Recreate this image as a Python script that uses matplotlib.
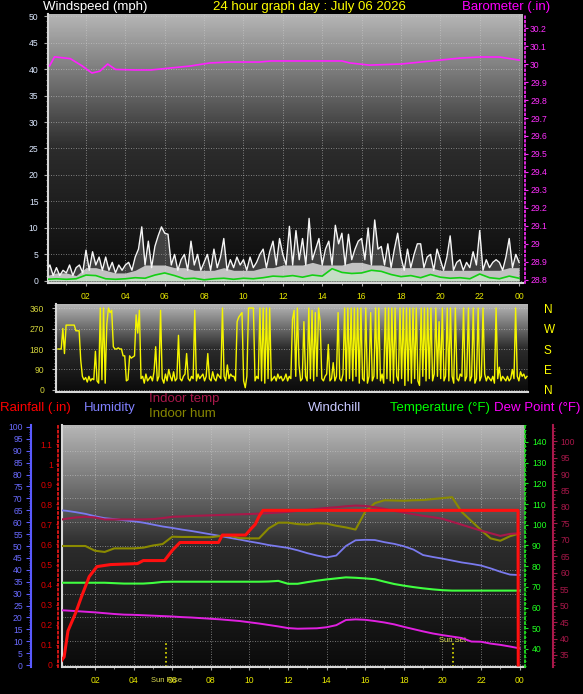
import numpy as np
import matplotlib
matplotlib.use("Agg")
import matplotlib.pyplot as plt
from matplotlib.colors import LinearSegmentedColormap
from matplotlib.ticker import MultipleLocator

plt.rcParams['font.family'] = ['Liberation Sans', 'DejaVu Sans']

# ---------------- data ----------------
hour_ticks = [2, 4, 6, 8, 10, 12, 14, 16, 18, 20, 22, 24]
hour_labels = ['02', '04', '06', '08', '10', '12', '14', '16', '18', '20', '22', '00']

# wind gusts every 10 minutes (mph)
gust_mph = [
    2, 3, 1, 2.5, 1, 2,
    1.5, 3, 1, 2.5, 3, 1.5,
    5.8, 2, 5.5, 3, 4.5, 2,
    4.5, 2, 3.5, 1.5, 3, 2,
    3, 3.5, 2, 4.5, 6, 10.2,
    3, 7.5, 2.5, 6.5, 8.5, 10.2,
    9, 8.8, 3, 5, 2, 4,
    5, 2, 7.5, 3, 5, 2,
    3.5, 5, 2, 6, 2.5, 4.5,
    8, 2, 4, 2.5, 4.5, 3,
    4, 2, 4.5, 2.5, 3.5, 5,
    6, 2.5, 5.5, 7.5, 3, 8,
    5, 3, 10.3, 3, 9.5, 4,
    8, 3, 11.8, 4, 6, 8,
    3, 6, 7.5, 3, 10.5, 7,
    9, 3, 8.8, 4, 6, 7.5,
    8, 4, 10, 3, 11.5, 6,
    6.5, 3, 7, 2.5, 6, 9,
    4.5, 2, 6, 2.5, 5, 7,
    7, 2.5, 4.5, 5, 2, 6,
    4, 2, 4.5, 8.5, 2, 3.5,
    4, 2, 3.5, 2.5, 5.5, 3,
    9.5, 2, 4, 2.5, 3.5, 4,
    3.5, 2, 4.5, 8, 2.5, 5,
    3.5]

# wind speed and average every 30 minutes (mph)
wind_mph = [1, 1.5, 1.5, 1, 2.5, 2.5, 2, 1.5, 1.5, 2, 3, 3, 3, 2.5, 2.5, 2, 2,
            2, 2.5, 2, 2, 2, 2.5, 2.5, 3, 3, 3, 3.5, 3, 3, 3, 3.5, 3.5, 3, 3,
            2.5, 2.5, 2.5, 2.5, 2.5, 2, 2, 2, 2, 2, 2, 2, 2.5, 2.5]
avg_mph = [0.3, 0.4, 0.3, 0.4, 1.1, 1.0, 0.4, 0.3, 0.4, 0.6, 0.5, 1.1, 1.5,
           1.0, 0.4, 0.5, 0.2, 0.4, 0.5, 0.3, 0.5, 0.4, 0.6, 0.9, 0.8, 1.0,
           0.7, 1.1, 0.9, 2.3, 1.6, 1.4, 1.5, 2.0, 1.8, 1.2, 0.8, 1.0, 0.6,
           1.2, 0.7, 0.5, 0.6, 0.4, 1.3, 0.6, 0.4, 0.9, 0.5]

# barometer (inHg)
baro_hours = [0.15, 0.4, 1.2, 1.8, 2.3, 2.7, 3.1, 3.5, 4.5, 5.3, 6.3, 7.3,
              8.3, 9.3, 10.8, 11.4, 13, 15, 15.4, 16.4, 18, 19, 20, 21, 22,
              23, 24]
baro_in = [29.99, 30.04, 30.03, 29.99, 29.95, 29.96, 30.0, 29.97, 29.967,
           29.967, 29.978, 29.989, 30.006, 30.011, 30.011, 30.017, 30.017,
           30.017, 30.006, 29.994, 30.0, 30.011, 30.022, 30.033, 30.039,
           30.039, 30.022]
baro_ticks = [28.8, 28.9, 29.0, 29.1, 29.2, 29.3, 29.4, 29.5, 29.6, 29.7,
              29.8, 29.9, 30.0, 30.1, 30.2]
baro_labels = ['28.8', '28.9', '29', '29.1', '29.2', '29.3', '29.4', '29.5',
               '29.6', '29.7', '29.8', '29.9', '30', '30.1', '30.2']

# wind direction every 5 minutes (degrees)
wind_dir = [
    180, 180, 180, 270, 160, 285, 285, 285, 285, 285, 285, 260,
    260, 260, 130, 60, 45, 55, 35, 60, 40, 50, 45, 170,
    40, 30, 360, 45, 360, 30, 290, 360, 340, 350, 190, 180,
    180, 185, 180, 180, 150, 150, 40, 45, 150, 140, 145, 150,
    330, 250, 350, 50, 60, 30, 70, 40, 50, 60, 40, 80,
    190, 40, 60, 350, 50, 30, 70, 40, 90, 60, 40, 80,
    40, 50, 240, 50, 40, 60, 70, 160, 50, 40, 60, 50,
    350, 40, 70, 50, 60, 70, 40, 60, 160, 50, 40, 80,
    50, 40, 70, 60, 50, 360, 60, 40, 110, 50, 70, 60,
    60, 40, 300, 320, 330, 340, 40, 10, 60, 360, 360, 360,
    360, 40, 60, 50, 360, 40, 360, 30, 360, 50, 360, 40,
    50, 60, 40, 70, 50, 60, 40, 50, 70, 40, 60, 50,
    310, 350, 60, 360, 110, 40, 50, 300, 60, 40, 360, 50,
    350, 40, 340, 60, 360, 300, 50, 40, 60, 70, 200, 40,
    50, 120, 40, 60, 340, 50, 40, 70, 360, 40, 360, 50,
    360, 40, 360, 60, 360, 30, 360, 50, 40, 360, 30, 60,
    340, 40, 60, 360, 50, 360, 40, 70, 30, 360, 50, 360,
    40, 360, 30, 360, 60, 40, 360, 50, 360, 20, 360, 40,
    360, 30, 360, 50, 360, 40, 20, 360, 60, 360, 40, 360,
    50, 360, 40, 70, 360, 60, 300, 50, 360, 40, 60, 360,
    40, 360, 60, 30, 360, 50, 40, 70, 60, 360, 40, 60,
    360, 40, 60, 360, 30, 50, 360, 40, 60, 360, 70, 40,
    60, 50, 40, 60, 30, 360, 50, 100, 40, 60, 50, 40,
    60, 40, 50, 90, 50, 360, 60, 40, 80, 60, 70, 50,
    60]
compass_deg = [360, 270, 180, 90, 0]
compass = ['N', 'W', 'S', 'E', 'N']

# bottom panel, every 30 minutes
humidity = [65.1, 64.8, 64.2, 63.5, 62.5, 61.7, 61.3, 60.8, 60.4, 59.8, 59.0,
            58.2, 57.6, 56.9, 56.3, 55.6, 54.9, 54.2, 53.4, 52.7, 51.9, 51.2,
            50.4, 49.8, 49.2, 48.2, 47.0, 46.0, 45.2, 46.0, 50.0, 52.4, 52.6,
            52.5, 51.6, 50.9, 49.9, 48.5, 46.2, 45.4, 44.7, 43.9, 43.1, 42.5,
            41.8, 40.6, 39.2, 38.0, 37.8]
indoor_hum = [50, 50, 50, 50, 48, 47.5, 49, 49, 49, 49.3, 50.2, 50.8, 53.9,
              53.8, 53.8, 53.7, 53.7, 54.2, 54.3, 53.3, 53.2, 53.2, 57.4, 59.8,
              59.8, 59.2, 59.0, 59.6, 59.4, 58.5, 57.8, 56.9, 64.4, 68.0, 69.2,
              69.1, 69.0, 69.2, 69.3, 69.7, 70.1, 70.5, 64.3, 60.5, 56.7, 53.2,
              52.2, 54.1, 55.3]
indoor_temp = [75.9, 76.4, 76.8, 77.0, 76.8, 76.2, 76.2, 76.2, 76.2, 76.2,
               76.3, 76.6, 77.0, 77.1, 77.25, 77.35, 77.45, 77.55, 77.65,
               77.75, 77.85, 77.95, 78.1, 78.3, 78.5, 78.8, 79.1, 79.4, 79.7,
               79.9, 80.2, 80.4, 80.3, 79.9, 79.4, 78.8, 78.3, 77.8, 77.3,
               76.9, 76.4, 75.5, 74.6, 73.7, 72.8, 72.0, 71.2, 71.8, 72.0]
temperature = [72, 72, 72, 72, 72, 72, 71.8, 71.6, 71.6, 71.6, 71.9, 72.4,
               72.5, 72.5, 72.5, 72.5, 72.5, 72.5, 72.5, 72.5, 72.5, 72.5,
               72.6, 72.9, 71.5, 71.5, 72.3, 73.0, 73.6, 74.1, 74.6, 74.4,
               74.1, 73.7, 72.5, 71.4, 70.6, 69.9, 69.3, 68.8, 68.4, 68.2,
               68.2, 68.2, 68.2, 68.2, 68.2, 68.2, 68.2]
dew_point = [58.8, 58.6, 58.3, 58.0, 57.7, 57.3, 56.9, 56.6, 56.5, 56.3, 56.1,
             55.9, 55.7, 55.4, 55.2, 54.9, 54.6, 54.3, 53.9, 53.5, 52.9, 52.3,
             51.6, 50.9, 50.1, 49.8, 49.9, 50.0, 50.5, 51.5, 54.0, 54.3, 54.1,
             53.5, 52.8, 51.9, 50.7, 49.6, 48.5, 47.5, 46.7, 46.0, 45.3, 43.6,
             43.5, 42.6, 42.0, 41.2, 40.3]

rain_hours = [0.25, 0.4, 0.6, 1.0, 1.3, 1.7, 2.1, 2.8, 4.2, 4.5, 5.6, 6.0, 6.4,
              8.4, 8.6, 9.8, 10.1, 10.3, 10.5, 10.7, 23.92, 23.93]
rain_in = [0.02, 0.04, 0.17, 0.26, 0.34, 0.44, 0.49, 0.50, 0.505, 0.52, 0.52,
           0.57, 0.61, 0.61, 0.647, 0.647, 0.68, 0.70, 0.74, 0.77, 0.77, 0.0]
rain_ticks = [0, 0.1, 0.2, 0.3, 0.4, 0.5, 0.6, 0.7, 0.8, 0.9, 1.0, 1.1]
rain_labels = ['0', '0.1', '0.2', '0.3', '0.4', '0.5', '0.6', '0.7', '0.8',
               '0.9', '1', '1.1']

sunrise = 5.68
sunset = 20.55

# ---------------- figure ----------------
W, H = 583, 694
fig = plt.figure(figsize=(W / 100, H / 100), dpi=100, facecolor='black')


def box(x0, y0, x1, y1):
    return [x0 / W, 1 - y1 / H, (x1 - x0) / W, (y1 - y0) / H]


shade = LinearSegmentedColormap.from_list('shade', ['#0b0b0b', '#2c2c2c', '#b6b6b6'])
dots = dict(color='#d0d0d0', linestyle=(0, (1, 2)), linewidth=0.6, alpha=0.7)
TS = 6.2  # tick label size


def panel(x0, y0, x1, y1):
    ax = fig.add_axes(box(x0, y0, x1, y1))
    ax.set_facecolor('black')
    ax.imshow(np.linspace(0, 1, 200).reshape(-1, 1), cmap=shade, aspect='auto',
              origin='lower', extent=[0, 1, 0, 1], transform=ax.transAxes, zorder=0)
    for s in ['top', 'right']:
        ax.spines[s].set_visible(False)
    for s in ['left', 'bottom']:
        ax.spines[s].set_color('#d8d8d8')
        ax.spines[s].set_linewidth(1.5)
    return ax


def hour_axis(ax):
    ax.set_xticks(hour_ticks, hour_labels)
    ax.xaxis.set_minor_locator(MultipleLocator(1))
    ax.tick_params(axis='x', which='both', colors='#a8a8a8', labelcolor='#e8e800',
                   labelsize=TS)
    ax.tick_params(axis='x', which='major', length=2.5, pad=4.2)
    ax.tick_params(axis='x', which='minor', length=1.5)


# headers
fig.text(43 / W, 1 - 7 / H, 'Windspeed (mph)', color='white', fontsize=9.5, va='center')
fig.text(309 / W, 1 - 7 / H, '24 hour graph day : July 06 2026', color='#ffff00',
         fontsize=9.5, va='center', ha='center')
fig.text(550 / W, 1 - 7 / H, 'Barometer (.in)', color='#ff00ff', fontsize=9.5,
         va='center', ha='right')

# ---- top panel: wind + barometer ----
h10 = np.arange(len(gust_mph)) / 6
h30 = np.arange(len(wind_mph)) / 2

ax1 = panel(48, 14, 523, 283)
ax1.fill_between(h10, 0, gust_mph, color='#9a9a9a', alpha=0.35, lw=0, zorder=2)
ax1.fill_between(h30, 0, wind_mph, color='#e4e4e4', alpha=0.8, lw=0, zorder=2)
ax1.plot(h10, gust_mph, color='#f6f6f6', lw=1.0, zorder=3)
ax1.fill_between(h30, 0, avg_mph, color='#c8f4c8', alpha=0.55, lw=0, zorder=3)
ax1.plot(h30, avg_mph, color='#14d014', lw=1.2, zorder=4)
ax1.set_xlim(0.07, 24.2)
ax1.set_ylim(-0.4, 50.4)
ax1.yaxis.set_major_locator(MultipleLocator(5))
ax1.yaxis.set_minor_locator(MultipleLocator(1))
ax1.tick_params(axis='y', which='both', colors='#a8a8a8', labelcolor='#dce8ff',
                labelsize=TS, pad=4.0)
ax1.tick_params(axis='y', which='major', length=2.9)
ax1.tick_params(axis='y', which='minor', length=1.5)
hour_axis(ax1)
ax1.grid(True, which='major', **dots)

bx = ax1.twinx()
bx.plot(baro_hours, baro_in, color='#ff20ff', lw=1.2)
bx.set_ylim(28.783, 30.278)
bx.set_yticks(baro_ticks, baro_labels)
bx.yaxis.set_minor_locator(MultipleLocator(0.02))
for s in ['left', 'top', 'bottom']:
    bx.spines[s].set_visible(False)
bx.spines['right'].set_position(('outward', 1.4))
bx.spines['right'].set_color('#ff30ff')
bx.spines['right'].set_linestyle(':')
bx.spines['right'].set_linewidth(1.2)
bx.tick_params(axis='y', which='both', colors='#ff30ff', labelsize=TS, pad=1.5)
bx.tick_params(axis='y', which='major', length=2.2)
bx.tick_params(axis='y', which='minor', length=0)

# ---- middle panel: wind direction ----
h5 = np.arange(len(wind_dir)) / 12
ax2 = panel(56, 304, 528, 392)
ax2.plot(h5, wind_dir, color='#f5f500', lw=1.0, zorder=3)
ax2.set_xlim(-0.1, 24.05)
ax2.set_ylim(-8.8, 377.6)
ax2.set_yticks([0, 90, 180, 270, 360])
ax2.yaxis.set_minor_locator(MultipleLocator(15))
ax2.set_xticks([])
ax2.tick_params(axis='y', which='both', colors='#b0b0b0', labelcolor='#d4d43c',
                labelsize=TS, pad=5.5)
ax2.tick_params(axis='y', which='major', length=3)
ax2.tick_params(axis='y', which='minor', length=1.5)
ax2.grid(True, axis='y', **dots)

cx = ax2.twinx()
cx.set_ylim(ax2.get_ylim())
cx.set_yticks(compass_deg, compass)
cx.tick_params(axis='y', length=0, pad=11.5, labelcolor='#ffff00', labelsize=8.5)
for s in cx.spines.values():
    s.set_visible(False)

# ---- bottom panel ----
fig.text(0 / W, 1 - 408 / H, 'Rainfall (.in)', color='#ff0000', fontsize=9.5, va='center')
fig.text(84 / W, 1 - 408 / H, 'Humidity', color='#8080ff', fontsize=9.5, va='center')
fig.text(149 / W, 1 - 399 / H, 'Indoor temp', color='#a8184a', fontsize=9.5, va='center')
fig.text(149 / W, 1 - 414 / H, 'Indoor hum', color='#868600', fontsize=9.5, va='center')
fig.text(308 / W, 1 - 408 / H, 'Windchill', color='#c8c8ff', fontsize=9.5, va='center')
fig.text(390 / W, 1 - 408 / H, 'Temperature (°F)', color='#00ff00', fontsize=9.5, va='center')
fig.text(494 / W, 1 - 408 / H, 'Dew Point (°F)', color='#ff00ff', fontsize=9.5, va='center')

hb = np.arange(len(humidity)) / 2
xlim_b = (0.29, 24.28)

bg = panel(62, 425, 525, 667)
bg.set_xlim(xlim_b)
bg.set_ylim(-0.8, 100.8)
bg.set_yticks(np.arange(0, 101, 10))
bg.tick_params(axis='y', length=0, labelleft=False)
hour_axis(bg)
bg.grid(True, **dots)
bg.axvline(sunrise, 0, 0.1, color='#e8e800', linestyle=':', lw=1.2)
bg.axvline(sunset, 0, 0.1, color='#e8e800', linestyle=':', lw=1.2)
bg.text(sunset, 0.11, 'Sun Set', transform=bg.get_xaxis_transform(), color='#d8d850',
        fontsize=5.5, ha='center', va='center')
bg.text(sunrise, -0.054, 'Sun Rise', transform=bg.get_xaxis_transform(), color='#d8d850',
        fontsize=5.5, ha='center', va='center', clip_on=False)

# humidity (outer left)
ax3 = fig.add_axes(box(62, 425, 525, 667), facecolor='none')
ax3.plot(hb, humidity, color='#7a7aee', lw=1.3)
ax3.plot(hb, indoor_hum, color='#8a8a00', lw=1.5)
ax3.set_xlim(xlim_b)
ax3.set_ylim(-0.8, 100.8)
ax3.xaxis.set_visible(False)
for s in ['top', 'right', 'bottom']:
    ax3.spines[s].set_visible(False)
ax3.spines['left'].set_position(('outward', 22.3))
ax3.spines['left'].set_color('#5a5aff')
ax3.spines['left'].set_linewidth(1.5)
ax3.yaxis.set_major_locator(MultipleLocator(5))
ax3.yaxis.set_minor_locator(MultipleLocator(1))
ax3.tick_params(axis='y', which='both', colors='#5a5aff', labelcolor='#6a6aff',
                labelsize=TS, pad=2.6)
ax3.tick_params(axis='y', which='major', length=3.4)
ax3.tick_params(axis='y', which='minor', length=1.7)

# indoor temperature (outer right)
ai = ax3.twinx()
ai.plot(hb, indoor_temp, color='#a8184a', lw=1.5)
ai.set_ylim(31.35, 104.9)
for s in ['top', 'left', 'bottom']:
    ai.spines[s].set_visible(False)
ai.spines['right'].set_position(('outward', 20.2))
ai.spines['right'].set_color('#a8184a')
ai.spines['right'].set_linewidth(1.5)
ai.yaxis.set_major_locator(MultipleLocator(5))
ai.yaxis.set_minor_locator(MultipleLocator(1))
ai.tick_params(axis='y', which='both', colors='#a8184a', labelsize=TS, pad=2.2)
ai.tick_params(axis='y', which='major', length=2.9)
ai.tick_params(axis='y', which='minor', length=1.4)

# temperature / dew point (inner right)
at = ax3.twinx()
at.plot(hb, temperature, color='#40ff40', lw=1.5)
at.plot(hb, dew_point, color='#e020e0', lw=1.4)
at.set_ylim(31.3, 148.2)
for s in ['top', 'left', 'bottom']:
    at.spines[s].set_visible(False)
at.spines['right'].set_color('#20e020')
at.spines['right'].set_linestyle(':')
at.spines['right'].set_linewidth(1.3)
at.yaxis.set_major_locator(MultipleLocator(10))
at.yaxis.set_minor_locator(MultipleLocator(2))
at.tick_params(axis='y', which='both', colors='#20e020', labelcolor='#20ff20',
               labelsize=TS, pad=2.9)
at.tick_params(axis='y', which='major', length=2.2)
at.tick_params(axis='y', which='minor', length=0.8)

# rainfall (inner left)
ar = ax3.twinx()
ar.plot(rain_hours, rain_in, color='#ff1010', lw=2.2)
ar.set_ylim(-0.01, 1.195)
ar.yaxis.tick_left()
for s in ['top', 'right', 'bottom']:
    ar.spines[s].set_visible(False)
ar.spines['left'].set_visible(True)
ar.spines['left'].set_position(('outward', 2.9))
ar.spines['left'].set_color('#e01818')
ar.spines['left'].set_linestyle(':')
ar.spines['left'].set_linewidth(1.3)
ar.set_yticks(rain_ticks, rain_labels)
ar.tick_params(axis='y', which='major', colors='#e01818', labelcolor='#e00000',
               labelsize=TS, length=1.8, pad=2.0)

fig.savefig('out.png', dpi=100, facecolor='black')
